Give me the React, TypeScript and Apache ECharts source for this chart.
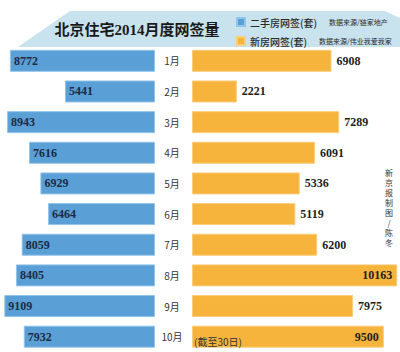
import React, { useEffect, useRef } from "react";
import * as echarts from "echarts";

const months = ["1月", "2月", "3月", "4月", "5月", "6月", "7月", "8月", "9月", "10月"];
const resaleDeals = [8772, 5441, 8943, 7616, 6929, 6464, 8059, 8405, 9109, 7932];
const newDeals = [6908, 2221, 7289, 6091, 5336, 5119, 6200, 10163, 7975, 9500];
const legendNames = ["二手房网签(套)", "新房网签(套)"];
const legendSources = ["数据来源/链家地产", "数据来源/伟业我爱我家"];
const title = "北京住宅2014月度网签量";
const credit = "新京报制图/陈冬";
const note = "(截至30日)";

const BLUE = "#5a9fd5";
const ORANGE = "#f6b43d";
const SERIF = "'Liberation Serif', 'Noto Sans CJK SC', serif";
const CJK = "'Noto Sans CJK SC', sans-serif";

export default function App() {
  const ref = useRef<HTMLDivElement>(null);
  useEffect(() => {
    document.body.style.margin = "0";
    const chart = echarts.init(ref.current!, null, { renderer: "svg" });
    const valueLabel = {
      fontFamily: SERIF,
      fontWeight: "bold",
      fontSize: 12,
    };
    chart.setOption({
      animation: false,
      backgroundColor: "#ffffff",
      grid: [
        { left: 0, width: 155, top: 45.5, height: 311 },
        { left: 192, width: 208, top: 45.5, height: 311 },
      ],
      xAxis: [
        { type: "value", gridIndex: 0, inverse: true, min: 0, max: 9370, show: false },
        { type: "value", gridIndex: 1, min: 0, max: 10300, show: false },
      ],
      yAxis: [
        { type: "category", gridIndex: 0, inverse: true, data: months, show: false },
        {
          type: "category",
          gridIndex: 1,
          inverse: true,
          data: months,
          axisLine: { show: false },
          axisTick: { show: false },
          axisLabel: {
            margin: 20,
            align: "center",
            color: "#333",
            fontSize: 10,
            fontFamily: CJK,
          },
        },
      ],
      legend: {
        orient: "vertical",
        left: 231,
        top: 12,
        itemWidth: 8,
        itemHeight: 8,
        itemGap: 9,
        icon: "rect",
        data: legendNames,
        formatter: (name: string) => {
          const i = legendNames.indexOf(name);
          return `{a|${name}}{b|${legendSources[i]}}`;
        },
        textStyle: {
          rich: {
            a: {
              fontSize: 10,
              color: "#2a2a2a",
              fontFamily: CJK,
              fontWeight: 500,
            },
            b: {
              fontSize: 7,
              color: "#2a2a2a",
              fontFamily: CJK,
              padding: [0, 0, 0, 12],
            },
          },
        },
      },
      series: [
        {
          name: legendNames[0],
          type: "bar",
          xAxisIndex: 0,
          yAxisIndex: 0,
          barWidth: 22,
          data: resaleDeals,
          itemStyle: { color: BLUE, borderColor: "#93c4ea", borderWidth: 1 },
          label: {
            show: true,
            position: "insideLeft",
            distance: 4,
            color: "#1c2a44",
            ...valueLabel,
          },
        },
        {
          name: legendNames[1],
          type: "bar",
          xAxisIndex: 1,
          yAxisIndex: 1,
          barWidth: 22,
          data: newDeals.map((v) =>
            v > 9000
              ? { value: v, label: { position: "insideRight", distance: 5 } }
              : v
          ),
          itemStyle: { color: ORANGE, borderColor: "#f9cd7c", borderWidth: 1 },
          label: {
            show: true,
            position: "right",
            distance: 5,
            color: "#1e1e1e",
            ...valueLabel,
          },
        },
      ],
      graphic: [
        {
          type: "polygon",
          z: -10,
          shape: {
            points: [
              [70, 11],
              [385, 11],
              [400, 18],
              [400, 47],
              [18, 47],
            ],
          },
          style: { fill: "#c8e2ee" },
        },
        {
          type: "text",
          x: 137,
          y: 30,
          style: {
            text: title,
            fontFamily: SERIF,
            fontWeight: "bold",
            fontSize: 15,
            fill: "#1a1a1a",
            align: "center",
            verticalAlign: "middle",
          },
        },
        {
          type: "text",
          x: 194,
          y: 341,
          z: 10,
          style: {
            text: note,
            fontFamily: CJK,
            fontSize: 10,
            fill: "#333",
            align: "left",
            verticalAlign: "middle",
          },
        },
        {
          type: "text",
          x: 389,
          y: 167,
          style: {
            text: credit.split("").join("\n"),
            fontFamily: CJK,
            fontSize: 8,
            lineHeight: 10,
            fill: "#333",
            align: "center",
            verticalAlign: "top",
          },
        },
      ],
    });
    return () => chart.dispose();
  }, []);
  return <div ref={ref} style={{ width: 400, height: 352 }} />;
}
